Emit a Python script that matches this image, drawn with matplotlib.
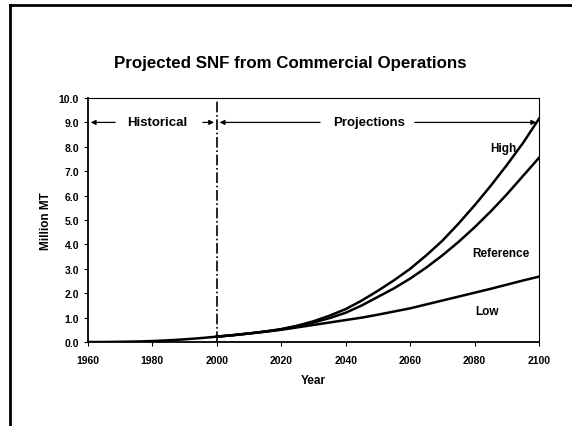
import matplotlib
matplotlib.use('Agg')
import matplotlib.pyplot as plt
from matplotlib.lines import Line2D

plt.rcParams['font.family'] = ['Liberation Sans', 'DejaVu Sans']
plt.rcParams['font.weight'] = 'bold'
plt.rcParams['axes.labelweight'] = 'bold'

# historical record
hist_years = [1960, 1965, 1970, 1975, 1980, 1985, 1990, 1995, 2000]
hist_vals = [0.0, 0.0, 0.01, 0.02, 0.04, 0.07, 0.11, 0.16, 0.22]

# projections
proj_years = list(range(2000, 2101, 5))
high = [0.22, 0.28, 0.35, 0.43, 0.53, 0.67, 0.85, 1.08, 1.35, 1.7, 2.1,
        2.53, 3.0, 3.55, 4.15, 4.85, 5.6, 6.4, 7.25, 8.15, 9.15]
reference = [0.22, 0.28, 0.35, 0.43, 0.52, 0.65, 0.8, 0.98, 1.2, 1.5, 1.85,
             2.2, 2.6, 3.05, 3.55, 4.1, 4.7, 5.35, 6.05, 6.8, 7.55]
low = [0.22, 0.28, 0.35, 0.42, 0.5, 0.6, 0.7, 0.8, 0.9, 1.0, 1.12,
       1.25, 1.38, 1.54, 1.7, 1.86, 2.02, 2.18, 2.35, 2.52, 2.68]

xticks = [1960, 1980, 2000, 2020, 2040, 2060, 2080, 2100]
yticks = [0, 1, 2, 3, 4, 5, 6, 7, 8, 9, 10]

fig = plt.figure(figsize=(5.72, 4.27), dpi=100)
ax = fig.add_axes([0.1538, 0.1967, 0.7885, 0.5714])

ax.plot(hist_years, hist_vals, color='black', lw=1.8)
for vals in (high, reference, low):
    ax.plot(proj_years, vals, color='black', lw=1.8)

# divider between history and projections
ax.axvline(2000, color='black', lw=1.2, ls='-.')

arrow = dict(arrowstyle='-|>', color='black', lw=0.9, mutation_scale=7)
ax.annotate('', xy=(1960, 9), xytext=(1969.3, 9), arrowprops=arrow)
ax.annotate('', xy=(2000, 9), xytext=(1994.8, 9), arrowprops=arrow)
ax.annotate('', xy=(2000, 9), xytext=(2032.9, 9), arrowprops=arrow)
ax.annotate('', xy=(2100, 9), xytext=(2060.6, 9), arrowprops=arrow)
ax.text(1981.6, 9, 'Historical', ha='center', va='center', fontsize=9.5)
ax.text(2047.1, 9, 'Projections', ha='center', va='center', fontsize=9.5)

ax.text(2088.9, 7.95, 'High', ha='center', va='center', fontsize=8.5)
ax.text(2088.3, 3.65, 'Reference', ha='center', va='center', fontsize=8.5)
ax.text(2083.9, 1.27, 'Low', ha='center', va='center', fontsize=8.5)

ax.set_xlim(1960, 2100)
ax.set_ylim(0, 10)
ax.set_xticks(xticks)
ax.set_yticks(yticks)
ax.set_yticklabels([f'{v:.1f}' for v in yticks])
ax.tick_params(labelsize=7.5, length=3, width=0.8)
ax.tick_params(axis='x', pad=6)
ax.set_xlabel('Year', fontsize=8.5, labelpad=7)
ax.set_ylabel('Million MT', fontsize=8.5, labelpad=5)

for side in ('left', 'bottom'):
    ax.spines[side].set_linewidth(1.3)
for side in ('top', 'right'):
    ax.spines[side].set_linewidth(0.8)

fig.text(0.507, 0.852, 'Projected SNF from Commercial Operations',
         ha='center', va='center', fontsize=12.2)

# slide frame
fig.add_artist(Line2D([0.0175, 1.0], [0.986, 0.986], color='black', lw=2))
fig.add_artist(Line2D([0.0175, 0.0175], [0.0, 0.986], color='black', lw=2))

fig.savefig('out.png', dpi=100)
